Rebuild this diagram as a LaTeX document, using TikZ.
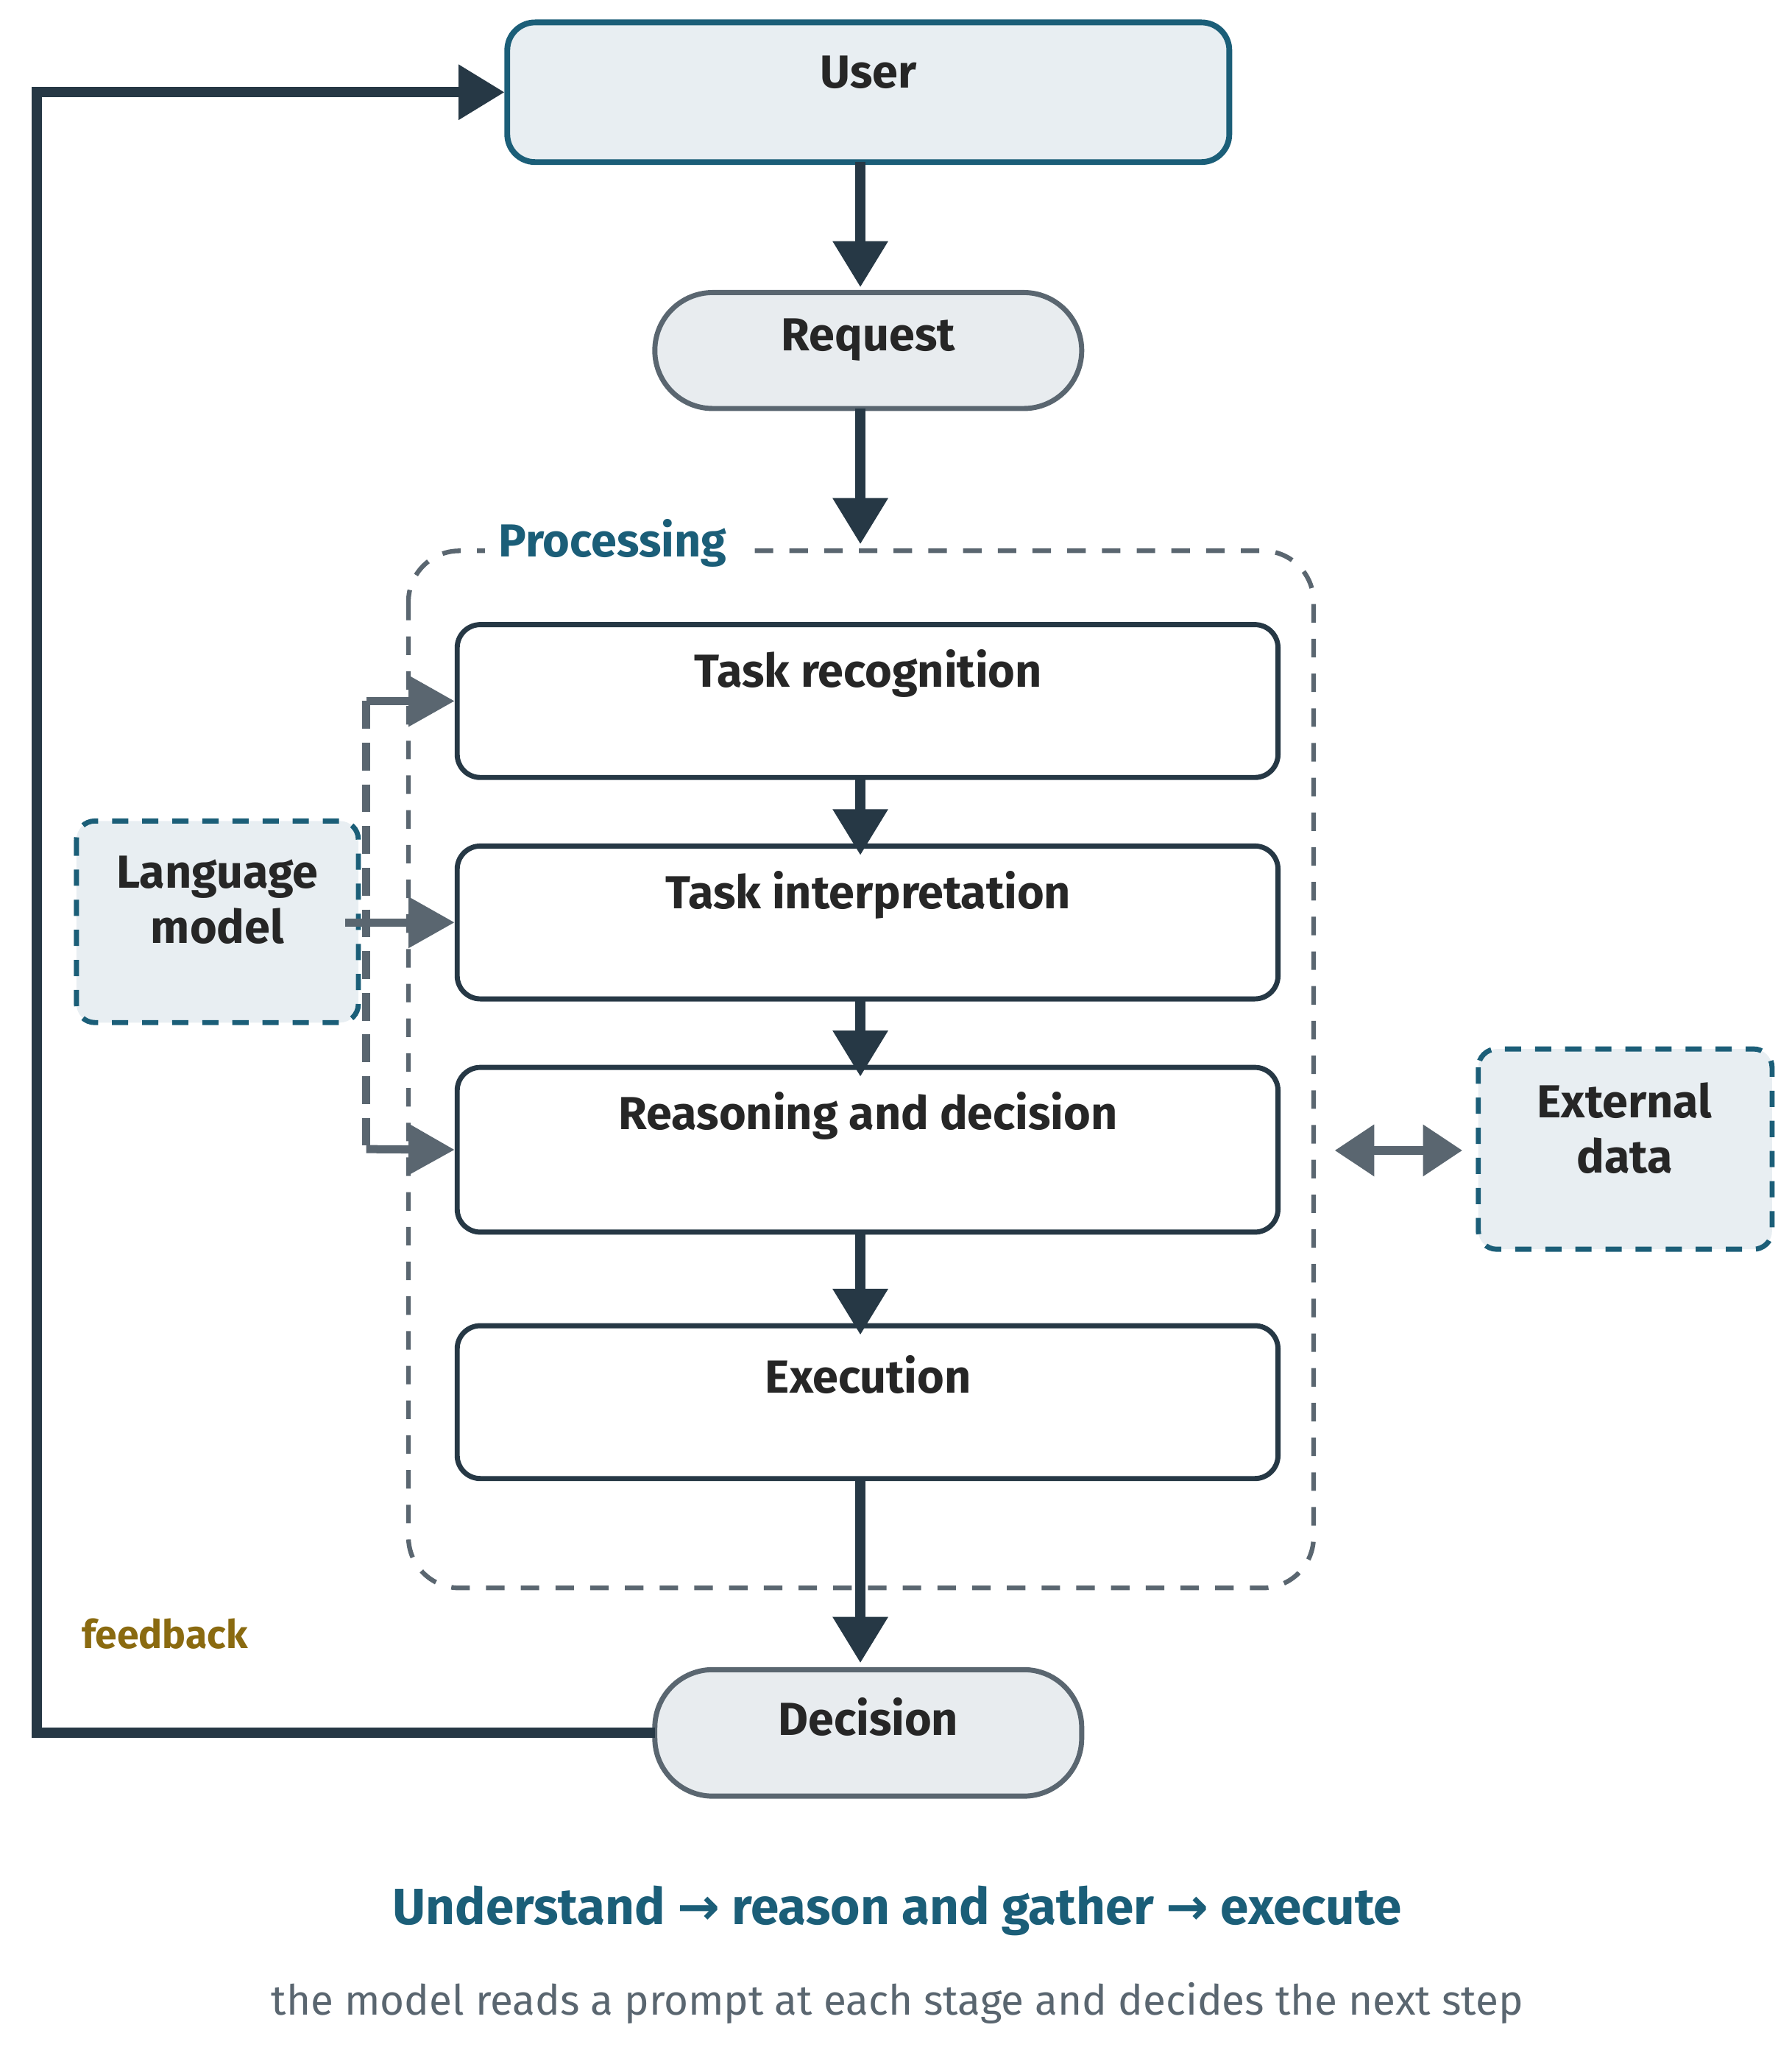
\documentclass[tikz,border=0pt]{standalone}
\usepackage{fontspec}
\setmainfont{Fira Sans}
\newfontfamily\symfont{DejaVu Sans}
\usetikzlibrary{arrows.meta,positioning}
\definecolor{Ink}{HTML}{263845}
\definecolor{Teal}{HTML}{1B5E78}
\definecolor{Slate}{HTML}{5A6670}
\definecolor{PaleBlue}{HTML}{E8EEF2}
\definecolor{PaleGrey}{HTML}{E8ECEF}
\definecolor{Olive}{HTML}{8A6A10}
\tikzset{
  stage/.style={draw=Ink, line width=2.2pt, rounded corners=10pt, fill=white},
  pill/.style={draw=Slate, line width=2.2pt, fill=PaleGrey, rounded corners=0.88cm},
  helper/.style={draw=Teal, line width=2.2pt, dash pattern=on 7pt off 6pt, fill=PaleBlue, rounded corners=8pt},
  flow/.style={draw=Ink, line width=4.5pt, -{Triangle[length=0.7cm,width=0.8cm]}},
  feed/.style={draw=Slate, line width=3.5pt, -{Triangle[length=0.7cm,width=0.75cm]}},
  label/.style={font=\fontsize{20}{24}\selectfont\bfseries, text=black!85, align=center}
}
\begin{document}
\begin{tikzpicture}[x=0.02cm,y=-0.02cm]
  \useasboundingbox (0,0) rectangle (1360,1564);

  % boxes
  \draw[draw=Teal, line width=2.5pt, fill=PaleBlue, rounded corners=12pt] (385,17) rectangle (933,123);
  \node[label] (user) at (659,55) {User};
  \draw[pill] (497,222) rectangle (821,310);
  \node[label] (request) at (659,258) {Request};

  \draw[draw=Slate, line width=2pt, dash pattern=on 8pt off 7pt, rounded corners=22pt] (310,418) rectangle (997,1205);
  \node[font=\fontsize{20}{24}\selectfont\bfseries, text=Teal, fill=white, inner sep=6pt] (proc) at (465,412) {Processing};

  \foreach \name/\top/\bot/\txt in {rec/474/590/Task recognition, int/642/758/Task interpretation, rea/810/935/Reasoning and decision, exe/1006/1122/Execution}{
    \draw[stage] (347,\top) rectangle (970,\bot);
    \node[label] (\name) at (659,\top+37) {\txt};
    \coordinate (\name-top) at (653,\top);
    \coordinate (\name-bot) at (653,\bot);
    \coordinate (\name-in) at (345,\top/2+\bot/2);
  }

  \draw[pill] (497,1267) rectangle (821,1363);
  \node[label] (decision) at (659,1303) {Decision};

  \draw[helper] (58,623) rectangle (272,776);
  \node[label] (lm) at (165,683) {Language\\model};
  \draw[helper] (1122,796) rectangle (1345,948);
  \node[label] (ext) at (1233,856) {External\\data};

  % main flow
  \coordinate (user-bot) at (653,123);
  \coordinate (req-top) at (653,218);
  \coordinate (req-bot) at (653,310);
  \coordinate (proc-top) at (653,413);
  \coordinate (dec-top) at (653,1262);
  \draw[flow] (user-bot) -- (req-top);
  \draw[flow] (req-bot) -- (proc-top);
  \draw[flow] (rec-bot) -- ([yshift=-4]int-top);
  \draw[flow] (int-bot) -- ([yshift=-4]rea-top);
  \draw[flow] (rea-bot) -- ([yshift=-4]exe-top);
  \draw[flow] (exe-bot) -- (dec-top);

  % feedback loop
  \coordinate (dec-left) at (497,1315);
  \coordinate (user-left) at (383,70);
  \draw[flow] (dec-left) -- (28,1315) -- (28,70) -- (user-left);
  \node[font=\fontsize{17}{20}\selectfont\bfseries, text=Olive] (fb) at (125,1240) {feedback};

  % language model inputs
  \coordinate (lm-right) at (262,700);
  \draw[feed] (lm-right) -- (int-in);
  \draw[draw=Slate, line width=3.5pt, dash pattern=on 12pt off 6pt] (278,532) -- (278,872);
  \draw[feed] (278,532) -- (rec-in);
  \draw[feed] (278,872) -- (rea-in);

  % external data
  \coordinate (ext-left) at (1110,873);
  \coordinate (proc-right) at (1013,873);
  \draw[draw=Slate, line width=4pt, {Triangle[length=0.6cm,width=0.75cm]}-{Triangle[length=0.6cm,width=0.75cm]}] (proc-right) -- (ext-left);

  % caption
  \node[font=\fontsize{22}{26}\selectfont\bfseries, text=Teal] (cap) at (681,1450) {Understand {\symfont→} reason and gather {\symfont→} execute};
  \node[font=\fontsize{18}{22}\selectfont, text=Slate] (sub) at (681,1520) {the model reads a prompt at each stage and decides the next step};
\end{tikzpicture}
\end{document}
